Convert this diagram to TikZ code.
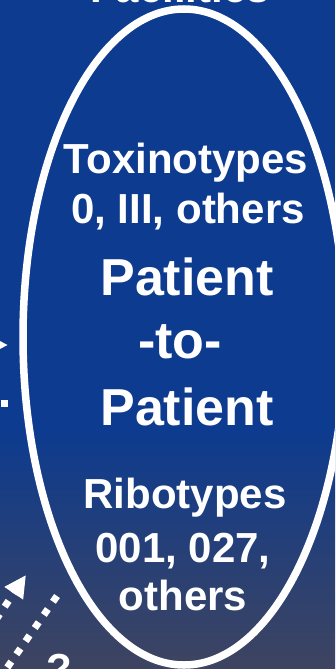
\documentclass[tikz,border=0pt]{standalone}
\usepackage{fontspec}
\setmainfont{Liberation Sans}
\usetikzlibrary{shapes.geometric, arrows.meta}
\definecolor{slideblue}{RGB}{13,59,143}
\definecolor{slidegrey}{RGB}{62,68,96}

\begin{document}
\begin{tikzpicture}[x=1pt, y=-1pt,
    txt/.style={text=white, font=\bfseries\fontsize{42}{46}\selectfont, anchor=base, inner sep=0pt},
    big/.style={txt, font=\bfseries\fontsize{52}{56}\selectfont},
    dots/.style={white, line width=7pt, dash pattern=on 7pt off 9pt}]
        \useasboundingbox (0,0) rectangle (335,669);
        \clip (0,0) rectangle (335,669);
        \fill[slideblue] (0,0) rectangle (335,430);
        \shade[top color=slideblue, bottom color=slidegrey] (0,429) rectangle (335,669);

        \node[draw=white, line width=7.5pt, ellipse, minimum width=322pt,
              minimum height=656pt, inner sep=0pt] (ptp) at (184,337) {};

        \node[txt] (fac)  at (180,3)   {Facilities};
        \node[txt] (tox)  at (186,173) {Toxinotypes};
        \node[txt] (toxn) at (188,223) {0, III, others};
        \node[big] (pat1) at (187,295) {Patient};
        \node[big] (to)   at (180,358) {-to-};
        \node[big] (pat2) at (187,425) {Patient};
        \node[txt] (rib)  at (185,508) {Ribotypes};
        \node[txt] (ribn) at (183,562) {001, 027,};
        \node[txt] (ribo) at (183,610) {others};
        \node[txt] (q)    at (59.5,683) {?};

        \coordinate (inA)  at (-60,345);
        \coordinate (tipA) at (8,345);
        \coordinate (inB)  at (-63,403.5);
        \coordinate (endB) at (8,403.5);
        \coordinate (inC)  at (-40,673);
        \coordinate (tipC) at (26,575);
        \coordinate (outD) at (57,596);
        \coordinate (endD) at (-30,721);

        \draw[dots, -{Triangle[length=22pt, width=21pt]}] (inA) -- (tipA);
        \draw[dots] (inB) -- (endB);
        \draw[dots, -{Triangle[length=22pt, width=21pt]}] (inC) -- (tipC);
        \draw[dots] (outD) -- (endD);

    \end{tikzpicture}
\end{document}
